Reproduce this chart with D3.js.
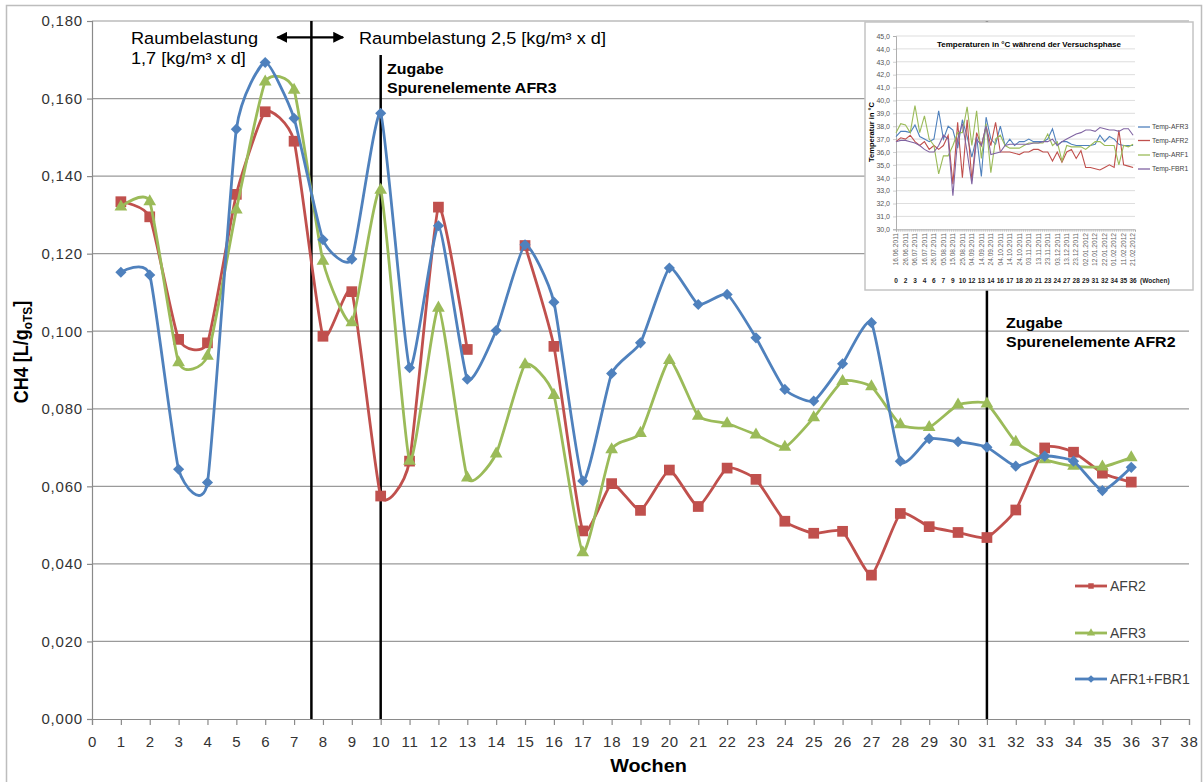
<!DOCTYPE html>
<html>
<head>
<meta charset="utf-8">
<script src="https://cdn.jsdelivr.net/npm/d3@7"></script>
<style>
body { margin: 0; background: #fff; }
svg { display: block; }
text { font-family: "Liberation Sans", Arial, sans-serif; }
</style>
</head>
<body>
<script>
// --- main chart data (CH4 yield per week) ---
var weeks = [1,2,3,4,5,6,7,8,9,10,11,12,13,14,15,16,17,18,19,20,21,22,23,24,25,26,27,28,29,30,31,32,33,34,35,36];
var afr2 = [0.1334,0.1295,0.0979,0.0970,0.1353,0.1566,0.1490,0.0987,0.1102,0.0575,0.0665,0.1320,0.0953,null,0.1221,0.0961,0.0485,0.0607,0.0538,0.0642,0.0548,0.0647,0.0618,0.0510,0.0479,0.0484,0.0371,0.0530,0.0496,0.0481,0.0468,0.0539,0.0699,0.0688,0.0634,0.0611];
var afr3 = [0.1321,0.1334,0.0919,0.0936,0.1313,0.1643,0.1622,0.1181,0.1022,0.1364,0.0665,0.1060,0.0622,0.0684,0.0914,0.0835,0.0429,0.0695,0.0737,0.0925,0.0781,0.0762,0.0733,0.0701,0.0777,0.0871,0.0857,0.0759,0.0752,0.0810,0.0813,0.0714,0.0669,0.0652,0.0650,0.0674];
var afr1fbr1 = [0.1152,0.1145,0.0644,0.0610,0.1521,0.1693,0.1549,0.1236,0.1186,0.1562,0.0906,0.1272,0.0876,0.1002,0.1223,0.1075,0.0614,0.0891,0.0970,0.1163,0.1069,0.1095,0.0983,0.0850,0.0820,0.0916,0.1022,0.0665,0.0723,0.0715,0.0701,0.0652,0.0678,0.0665,0.0589,0.0649];
var seriesNames = ["AFR2", "AFR3", "AFR1+FBR1"];
var xTicks = [0,1,2,3,4,5,6,7,8,9,10,11,12,13,14,15,16,17,18,19,20,21,22,23,24,25,26,27,28,29,30,31,32,33,34,35,36,37,38];
var yTicks = [0,0.02,0.04,0.06,0.08,0.10,0.12,0.14,0.16,0.18];

// --- inset data (temperatures, every 5 days from 16.06.2011) ---
var tempDays = [0,5,10,15,20,25,30,35,40,45,50,55,60,65,70,75,80,85,90,95,100,105,110,115,120,125,130,135,140,145,150,155,160,165,170,175,180,185,190,195,200,205,210,215,220,225,230,235,240,245,250];
var tempAFR3 = [37.2,37.6,37.6,37.5,38.1,37.2,37.0,36.8,37.0,39.2,37.0,38.0,37.7,36.3,38.5,37.2,35.6,37.2,34.1,38.7,37.0,36.6,38.0,36.5,37.0,36.5,36.8,36.8,37.0,36.8,36.8,36.8,37.0,37.8,36.5,36.8,36.8,36.6,36.5,36.5,36.5,36.5,36.6,37.3,36.8,37.2,37.0,36.6,36.5,36.5,36.5];
var tempAFR2 = [36.8,37.1,37.0,37.3,36.8,36.5,36.8,36.2,36.5,36.2,36.5,37.3,33.5,38.3,34.0,38.5,33.8,37.5,36.5,38.0,36.5,38.3,36.0,36.0,36.0,35.9,35.8,36.0,36.0,36.2,36.2,36.0,36.0,35.3,36.0,35.2,36.0,36.2,35.5,36.1,34.8,34.8,34.7,34.6,34.8,35.0,34.8,37.7,35.0,34.9,34.8];
var tempARF1 = [37.5,38.2,38.1,37.5,39.6,37.5,38.8,37.0,36.5,34.3,35.7,35.7,36.5,37.5,37.5,39.5,36.5,39.2,35.5,38.2,34.4,37.0,37.3,36.5,36.3,36.3,36.3,36.5,36.7,36.7,36.7,36.7,37.4,36.5,36.8,35.3,36.5,36.4,36.4,36.4,36.2,36.5,36.8,36.8,36.5,36.5,36.5,35.0,36.5,36.4,36.6];
var tempFBR1 = [36.8,36.9,36.9,36.8,36.7,36.5,36.2,36.0,36.0,36.5,37.3,37.0,32.6,37.0,38.2,36.0,33.5,37.0,36.5,38.0,35.8,35.9,36.0,36.5,36.6,36.6,36.6,36.6,36.6,36.7,36.7,36.8,36.8,37.0,36.5,36.8,37.0,37.2,37.4,37.5,37.7,37.7,37.6,37.9,37.8,37.7,37.7,37.6,37.8,37.8,37.3];
var tempNames = ["Temp-AFR3", "Temp-AFR2", "Temp-ARF1", "Temp-FBR1"];
var tempTicks = [30,31,32,33,34,35,36,37,38,39,40,41,42,43,44,45];
var dateLabels = ["16.06.2011","26.06.2011","06.07.2011","16.07.2011","26.07.2011","05.08.2011","15.08.2011","25.08.2011","04.09.2011","14.09.2011","24.09.2011","04.10.2011","14.10.2011","24.10.2011","03.11.2011","13.11.2011","23.11.2011","03.12.2011","13.12.2011","23.12.2011","02.01.2012","12.01.2012","22.01.2012","01.02.2012","11.02.2012","21.02.2012"];
var dateLabelDays = [0,10,20,30,40,50,60,70,80,90,100,110,120,130,140,150,160,170,180,190,200,210,220,230,240,250];
var weekLabels = ["0","2","3","4","6","7","9","10","12","13","14","16","17","18","20","21","23","24","27","28","29","31","32","34","35","36"];

var colors = ["#C0504D", "#9BBB59", "#4F81BD"];
var tempColors = ["#4F81BD", "#C0504D", "#9BBB59", "#8064A2"];

var width = 1204, height = 782;
var svg = d3.select("body").append("svg")
	.attr("width", width)
	.attr("height", height);

// chart area border
svg.append("rect")
	.attr("x", 6.5).attr("y", 5.5)
	.attr("width", 1195).attr("height", 800)
	.attr("fill", "#fff")
	.attr("stroke", "#bdbdbd")
	.attr("stroke-width", 1.5);

var x = d3.scaleLinear().domain([0, 38]).range([92, 1189]);
var y = d3.scaleLinear().domain([0, 0.18]).range([719, 21]);

// gridlines
svg.append("g").selectAll("line")
	.data(yTicks.slice(1))
	.enter().append("line")
	.attr("x1", x(0)).attr("x2", x(38))
	.attr("y1", function(d){ return y(d); })
	.attr("y2", function(d){ return y(d); })
	.attr("stroke", "#9a9a9a")
	.attr("stroke-width", 1.2);

var fmt = function(d){ return d3.format(".3f")(d).replace(".", ","); };

var yAxis = svg.append("g")
	.attr("transform", "translate(" + x(0) + ",0)")
	.call(d3.axisLeft(y).tickValues(yTicks).tickFormat(fmt).tickSize(5).tickPadding(4));

var xAxis = svg.append("g")
	.attr("transform", "translate(0," + y(0) + ")")
	.call(d3.axisBottom(x).tickValues(xTicks).tickFormat(d3.format("d")).tickSize(6).tickPadding(11));

[yAxis, xAxis].forEach(function(a){
	a.select(".domain").attr("stroke", "#8a8a8a").attr("stroke-width", 1.2);
	a.selectAll(".tick line").attr("stroke", "#8a8a8a").attr("stroke-width", 1.2);
	a.selectAll(".tick text")
		.attr("fill", "#333")
		.style("font-size", "15px")
		.style("letter-spacing", "0.8px")
		.style("font-family", "'Liberation Sans', Arial, sans-serif");
});

// vertical marker lines
var vLines = [{week: 7.6, top: 0.18}, {week: 10, top: 0.1712}, {week: 31, top: 0.18}];
svg.append("g").selectAll("line")
	.data(vLines)
	.enter().append("line")
	.attr("x1", function(d){ return x(d.week); })
	.attr("x2", function(d){ return x(d.week); })
	.attr("y1", function(d){ return y(d.top); })
	.attr("y2", y(0))
	.attr("stroke", "#000")
	.attr("stroke-width", 2.5);

// series
var series = [afr2, afr3, afr1fbr1].map(function(vals, i){
	return {
		name: seriesNames[i],
		color: colors[i],
		values: weeks.map(function(w, j){ return {week: w, value: vals[j]}; })
	};
});

var line = d3.line()
	.defined(function(d){ return d.value != null; })
	.curve(d3.curveCardinal.tension(0.5))
	.x(function(d){ return x(d.week); })
	.y(function(d){ return y(d.value); });

var symbols = [
	d3.symbol().type(d3.symbolSquare).size(115),
	d3.symbol().type(d3.symbolTriangle).size(70),
	d3.symbol().type(d3.symbolSquare).size(62)
];
var symbolRotate = [0, 0, 45];

var sg = svg.selectAll(".series")
	.data(series)
	.enter().append("g")
	.attr("class", "series");

sg.append("path")
	.attr("d", function(d){ return line(d.values); })
	.attr("fill", "none")
	.attr("stroke", function(d){ return d.color; })
	.attr("stroke-width", 2.8);

sg.each(function(s, i){
	d3.select(this).selectAll(".mark")
		.data(s.values.filter(function(d){ return d.value != null; }))
		.enter().append("path")
		.attr("class", "mark")
		.attr("d", symbols[i])
		.attr("transform", function(d){ return "translate(" + x(d.week) + "," + y(d.value) + ") rotate(" + symbolRotate[i] + ")"; })
		.attr("fill", s.color);
});

// legend
var legendY = [586, 633, 679];
var lg = svg.selectAll(".legend")
	.data(series)
	.enter().append("g")
	.attr("class", "legend")
	.attr("transform", function(d, i){ return "translate(1075," + legendY[i] + ")"; });
lg.append("line")
	.attr("x1", 0).attr("x2", 32)
	.attr("stroke", function(d){ return d.color; })
	.attr("stroke-width", 2.8);
lg.append("path")
	.attr("d", function(d, i){
		return d3.symbol().type(i == 1 ? d3.symbolTriangle : d3.symbolSquare).size(30)();
	})
	.attr("transform", function(d, i){ return "translate(16,0) rotate(" + symbolRotate[i] + ")"; })
	.attr("fill", function(d){ return d.color; });
lg.append("text")
	.attr("x", 35).attr("dy", "0.35em")
	.attr("fill", "#404040")
	.style("font-size", "14px")
	.text(function(d){ return d.name; });

// annotations
function label(txt, px, py, size, weight) {
	svg.append("text")
		.attr("transform", "translate(" + px + "," + py + ") scale(1.1,1)")
		.style("font-size", size + "px")
		.style("font-weight", weight || "normal")
		.attr("fill", "#000")
		.text(txt);
}
label("Raumbelastung", 131, 43.5, 16.5);
label("1,7 [kg/m³ x d]", 131, 63.5, 16.5);
label("Raumbelastung 2,5 [kg/m³ x d]", 359, 44, 16.5);
label("Zugabe", 387, 74, 14.5, "bold");
label("Spurenelemente AFR3", 387, 93, 14.5, "bold");
label("Zugabe", 1006, 328, 14.5, "bold");
label("Spurenelemente AFR2", 1006, 347, 14.5, "bold");

// double arrow
var defs = svg.append("defs");
defs.append("marker")
	.attr("id", "ah")
	.attr("viewBox", "0 0 10 10")
	.attr("refX", 9).attr("refY", 5)
	.attr("markerWidth", 5).attr("markerHeight", 5)
	.attr("orient", "auto-start-reverse")
	.attr("markerUnits", "strokeWidth")
	.append("path")
	.attr("d", "M0,0 L10,5 L0,10 z")
	.attr("fill", "#000");
svg.append("line")
	.attr("x1", x(6.42)).attr("x2", x(8.7))
	.attr("y1", y(0.1758)).attr("y2", y(0.1758))
	.attr("stroke", "#000")
	.attr("stroke-width", 2.2)
	.attr("marker-start", "url(#ah)")
	.attr("marker-end", "url(#ah)");

// axis titles
svg.append("text")
	.attr("transform", "translate(" + (x(0) + (x(38) - x(0)) / 2 + 8) + ",772) scale(1.1,1)")
	.attr("text-anchor", "middle")
	.style("font-size", "18px")
	.style("font-weight", "bold")
	.text("Wochen");

var yt = svg.append("text")
	.attr("transform", "translate(28,352) rotate(-90) scale(1,1.1)")
	.attr("text-anchor", "middle")
	.style("font-size", "18px")
	.style("font-weight", "bold");
yt.append("tspan").text("CH4 [L/g");
yt.append("tspan").attr("dy", 4).style("font-size", "12px").text("oTS");
yt.append("tspan").attr("dy", -4).text("]");

// --- inset: temperatures ---
var inset = svg.append("g");
inset.append("rect")
	.attr("x", 865).attr("y", 22)
	.attr("width", 328).attr("height", 268)
	.attr("fill", "#fff")
	.attr("stroke", "#c4c4c4")
	.attr("stroke-width", 1.5);

var xT = d3.scaleLinear().domain([0, 252]).range([896, 1135]);
var yT = d3.scaleLinear().domain([30, 45]).range([229.3, 36]);

inset.append("g").selectAll("line")
	.data(tempTicks.slice(1))
	.enter().append("line")
	.attr("x1", xT(0)).attr("x2", xT(252))
	.attr("y1", function(d){ return yT(d); })
	.attr("y2", function(d){ return yT(d); })
	.attr("stroke", "#d4d4d4")
	.attr("stroke-width", 0.8);

var tya = inset.append("g")
	.attr("transform", "translate(" + xT(0) + ",0)")
	.call(d3.axisLeft(yT).tickValues(tempTicks).tickFormat(function(d){ return d3.format(".1f")(d).replace(".", ","); }).tickSize(3).tickPadding(3));
var txa = inset.append("g")
	.attr("transform", "translate(0," + yT(30) + ")")
	.call(d3.axisBottom(xT).tickValues(d3.range(0, 252, 2)).tickFormat("").tickSize(2.5));
[tya, txa].forEach(function(a){
	a.select(".domain").attr("stroke", "#9a9a9a").attr("stroke-width", 0.8);
	a.selectAll(".tick line").attr("stroke", "#b0b0b0").attr("stroke-width", 0.6);
	a.selectAll(".tick text").attr("fill", "#555").style("font-size", "7px");
});

inset.selectAll(".dlab")
	.data(dateLabels)
	.enter().append("text")
	.attr("class", "dlab")
	.attr("transform", function(d, i){ return "translate(" + (xT(dateLabelDays[i]) + 2.3) + ",233) rotate(-90)"; })
	.attr("text-anchor", "end")
	.attr("fill", "#666")
	.style("font-size", "6.6px")
	.text(function(d){ return d; });

inset.selectAll(".wlab")
	.data(weekLabels)
	.enter().append("text")
	.attr("class", "wlab")
	.attr("x", function(d, i){ return xT(dateLabelDays[i]); })
	.attr("y", 282.5)
	.attr("text-anchor", "middle")
	.attr("fill", "#222")
	.style("font-size", "6.5px")
	.style("font-weight", "bold")
	.text(function(d){ return d; });
inset.append("text")
	.attr("x", xT(250) + 7).attr("y", 282.5)
	.attr("fill", "#222")
	.style("font-size", "6.5px")
	.style("font-weight", "bold")
	.text("(Wochen)");

inset.append("text")
	.attr("x", 1029).attr("y", 47)
	.attr("text-anchor", "middle")
	.style("font-size", "8px")
	.style("font-weight", "bold")
	.text("Temperaturen in °C während der Versuchsphase");

inset.append("text")
	.attr("transform", "translate(874,132) rotate(-90)")
	.attr("text-anchor", "middle")
	.style("font-size", "7.5px")
	.style("font-weight", "bold")
	.text("Temperatur in °C");

var tempSeries = [tempAFR3, tempAFR2, tempARF1, tempFBR1].map(function(vals, i){
	return {
		name: tempNames[i],
		color: tempColors[i],
		values: tempDays.map(function(dd, j){ return {day: dd, t: vals[j]}; })
	};
});
var tline = d3.line()
	.x(function(d){ return xT(d.day); })
	.y(function(d){ return yT(d.t); });
inset.selectAll(".tl")
	.data(tempSeries)
	.enter().append("path")
	.attr("class", "tl")
	.attr("d", function(d){ return tline(d.values); })
	.attr("fill", "none")
	.attr("stroke", function(d){ return d.color; })
	.attr("stroke-width", 1.1);

var tLegendY = [127, 140.5, 155, 169];
var tlg = inset.selectAll(".tleg")
	.data(tempSeries)
	.enter().append("g")
	.attr("class", "tleg")
	.attr("transform", function(d, i){ return "translate(1138," + tLegendY[i] + ")"; });
tlg.append("line")
	.attr("x1", 0).attr("x2", 12)
	.attr("stroke", function(d){ return d.color; })
	.attr("stroke-width", 1.3);
tlg.append("text")
	.attr("x", 14).attr("dy", "0.35em")
	.attr("fill", "#444")
	.style("font-size", "6.8px")
	.text(function(d){ return d.name; });
</script>
</body>
</html>
